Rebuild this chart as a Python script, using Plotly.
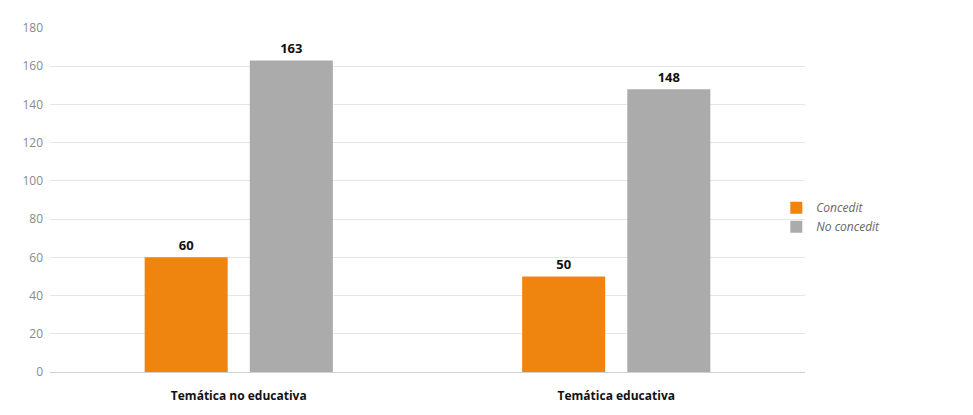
import plotly.graph_objects as go

categories = ["Temática no educativa", "Temática educativa"]
concedit = [60, 50]
no_concedit = [163, 148]
y_ticks = [0, 20, 40, 60, 80, 100, 120, 140, 160, 180]

fig = go.Figure()
fig.add_trace(go.Bar(
    x=categories, y=concedit, name="Concedit",
    marker=dict(color="#EF850F", line=dict(width=0)),
    text=concedit, textposition="outside",
    textfont=dict(family="Open Sans", size=13, color="#111111", weight="bold"),
    cliponaxis=False,
))
fig.add_trace(go.Bar(
    x=categories, y=no_concedit, name="No concedit",
    marker=dict(color="#ABABAB", line=dict(width=0)),
    text=no_concedit, textposition="outside",
    textfont=dict(family="Open Sans", size=13, color="#111111", weight="bold"),
    cliponaxis=False,
))

fig.update_layout(
    width=973, height=415,
    margin=dict(l=50, r=168, t=28, b=43),
    paper_bgcolor="white", plot_bgcolor="white",
    barmode="group", bargap=0.443, bargroupgap=0.21,
    font=dict(family="Open Sans", color="#555555"),
    showlegend=True,
    legend=dict(
        x=0.962, xanchor="left", y=0.45, yanchor="middle",
        xref="paper", yref="paper",
        font=dict(family="Open Sans", size=12, color="#666666", style="italic"),
        itemwidth=30, tracegroupgap=0,
        bgcolor="rgba(0,0,0,0)",
    ),
)
fig.update_xaxes(
    showgrid=False, showline=False, zeroline=False, ticks="",
    tickfont=dict(family="Open Sans", size=12, color="#111111", weight="bold"),
    ticklabelstandoff=15,
)
fig.update_yaxes(
    range=[0, 180], tickvals=y_ticks,
    showgrid=True, gridcolor="#E6E6E6", gridwidth=1,
    zeroline=True, zerolinecolor="#D0D0D0", zerolinewidth=1,
    showline=False, ticks="",
    tickfont=dict(family="Open Sans", size=12, color="#8A8A8A"),
    ticklabelstandoff=6,
)

fig.write_html("out.html")
